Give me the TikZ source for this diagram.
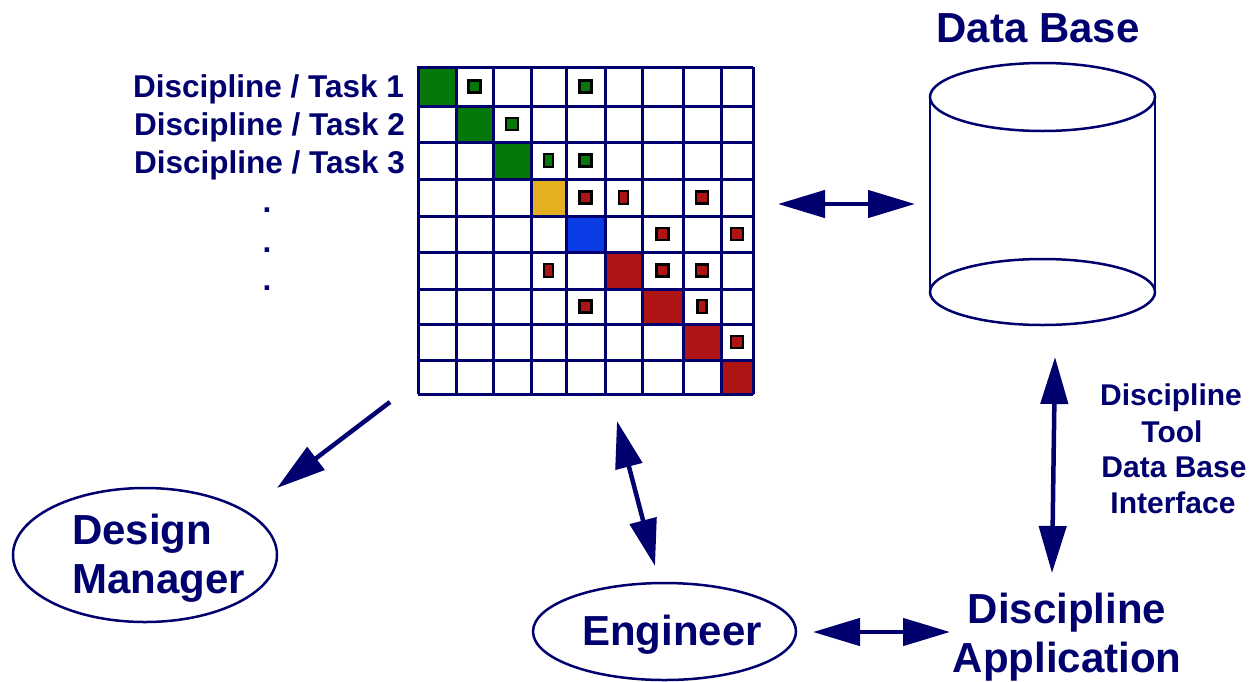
\documentclass[tikz,border=0pt]{standalone}
\usepackage{fontspec}
\setmainfont{Liberation Sans}
\usetikzlibrary{arrows.meta,shapes.geometric}

\definecolor{navy}{RGB}{0,0,110}
\definecolor{cgreen}{RGB}{6,120,10}
\definecolor{cgold}{RGB}{228,176,32}
\definecolor{cblue}{RGB}{10,60,230}
\definecolor{cred}{RGB}{174,20,20}

% grid line positions
\def\gx{{418,456,493,531,566,605,642,683,721,753}}
\def\gy{{67,106,142,179,216,252,289,324,360,394}}

\tikzset{
  label30/.style={text=navy, font=\fontsize{30}{36}\selectfont\bfseries, inner sep=0pt},
  rowlabel/.style={text=navy, font=\fontsize{31.5}{36}\selectfont\bfseries, inner sep=0pt},
  label42/.style={text=navy, font=\fontsize{42}{50}\selectfont\bfseries, inner sep=0pt},
  gridline/.style={draw=navy, line width=3pt},
  cellbox/.style={draw=navy, line width=2.5pt},
  mk/.style={draw=black, line width=2.4pt, inner sep=0pt, minimum height=12pt},
  mkwide/.style={mk, minimum width=12pt},
  mknarrow/.style={mk, minimum width=9pt, minimum height=13pt},
  bubble/.style={ellipse, draw=navy, line width=2.5pt, inner sep=0pt},
  flow/.style={draw=navy, line width=4.5pt},
  tip/.style={-{Triangle[length=49pt,width=28pt]}},
  dtip/.style={{Triangle[length=47pt,width=27pt]}-{Triangle[length=47pt,width=27pt]}},
}

\newcommand\cellspan[2]{% column/row index -> \xa,\xb,\ya,\yb
  \pgfmathtruncatemacro\ci{#1-1}\pgfmathtruncatemacro\ri{#2-1}%
  \pgfmathsetmacro\xa{\gx[\ci]}\pgfmathsetmacro\xb{\gx[#1]}%
  \pgfmathsetmacro\ya{\gy[\ri]}\pgfmathsetmacro\yb{\gy[#2]}}

\newcommand\diagcell[2]{%
  \cellspan{#1}{#1}%
  \draw[cellbox, fill=#2] (\xa,\ya) rectangle (\xb,\yb);}

\newcommand\dsmMark[4]{%
  \cellspan{#1}{#2}%
  \node[#4, fill=#3] (mark-#1-#2) at ({(\xa+\xb)/2},{(\ya+\yb)/2}) {};}

\begin{document}
\begin{tikzpicture}[x=1pt,y=-1pt]
\useasboundingbox (0,0) rectangle (1253,681);
\fill[white] (0,0) rectangle (1253,681);

% ---- dependency matrix ----
\diagcell{1}{cgreen}
\diagcell{2}{cgreen}
\diagcell{3}{cgreen}
\diagcell{4}{cgold}
\diagcell{5}{cblue}
\diagcell{6}{cred}
\diagcell{7}{cred}
\diagcell{8}{cred}
\diagcell{9}{cred}
\foreach \x in {418,456,493,531,566,605,642,683,721,753}
  \draw[gridline] (\x,67) -- (\x,394);
\foreach \y in {67,106,142,179,216,252,289,324,360,394}
  \draw[gridline] (418,\y) -- (753,\y);
\node[inner sep=0pt, minimum width=335pt, minimum height=327pt] (dsm) at (585.5,230.5) {};

\foreach \c/\r/\col/\w in {2/1/cgreen/mkwide, 5/1/cgreen/mkwide, 3/2/cgreen/mkwide,
    4/3/cgreen/mknarrow, 5/3/cgreen/mkwide, 5/4/cred/mkwide, 6/4/cred/mknarrow,
    8/4/cred/mkwide, 7/5/cred/mkwide, 9/5/cred/mkwide, 4/6/cred/mknarrow,
    7/6/cred/mkwide, 8/6/cred/mkwide, 5/7/cred/mkwide, 8/7/cred/mknarrow,
    9/8/cred/mkwide}
  {\dsmMark{\c}{\r}{\col}{\w}}

% ---- row labels ----
\node[rowlabel, anchor=base east] (task1) at (404,97) {Discipline / Task 1};
\node[rowlabel, anchor=base east] (task2) at (405,135) {Discipline / Task 2};
\node[rowlabel, anchor=base east] (task3) at (405,173) {Discipline / Task 3};
\node[rowlabel, anchor=base] (dot1) at (267,212) {.};
\node[rowlabel, anchor=base] (dot2) at (267,252) {.};
\node[rowlabel, anchor=base] (dot3) at (267,290) {.};

% ---- data base cylinder ----
\draw[navy, line width=2.5pt] (930,97) -- (930,292) (1155,97) -- (1155,292);
\draw[navy, line width=2.5pt] (1042.5,97) ellipse [x radius=112.5, y radius=34];
\draw[navy, line width=2.5pt] (1042.5,292) ellipse [x radius=112.5, y radius=33];
\node[inner sep=0pt, minimum width=225pt, minimum height=263pt] (db) at (1042.5,194.5) {};
\node[label42, anchor=base] (dbtitle) at (1038,42) {Data Base};

% ---- actors ----
\node[bubble, minimum width=264pt, minimum height=134pt] (dm) at (145,555) {};
\node[label42, anchor=base west] (dm1) at (72,544) {Design};
\node[label42, anchor=base west] (dm2) at (72,593) {Manager};

\node[bubble, minimum width=263pt, minimum height=97pt] (eng) at (664.5,631.5) {};
\node[label42, anchor=base] (engtext) at (672,645) {Engineer};

\node[label42, anchor=base] (da1) at (1067,623) {Discipline};
\node[label42, anchor=base] (da2) at (1067,672) {Application};

\node[label30, anchor=base] (if1) at (1171,405) {Discipline};
\node[label30, anchor=base] (if2) at (1172,442) {Tool};
\node[label30, anchor=base] (if3) at (1174,477) {Data Base};
\node[label30, anchor=base] (if4) at (1173,513) {Interface};

% ---- connector ends ----
\coordinate (dsmE) at (778,204);
\coordinate (dbW) at (915,204);
\coordinate (dsmSW) at (390,402);
\coordinate (dmNE) at (277,488);
\coordinate (dsmS) at (617,421);
\coordinate (engN) at (655,566);
\coordinate (dbS) at (1055,357);
\coordinate (daN) at (1052,573);
\coordinate (engE) at (813,632);
\coordinate (daW) at (950,632);

% ---- connectors ----
\draw[flow, dtip] (dsmE) -- (dbW);
\draw[flow, tip] (dsmSW) -- (dmNE);
\draw[flow, dtip] (dsmS) -- (engN);
\draw[flow, dtip] (dbS) -- (daN);
\draw[flow, dtip] (engE) -- (daW);
\end{tikzpicture}
\end{document}
